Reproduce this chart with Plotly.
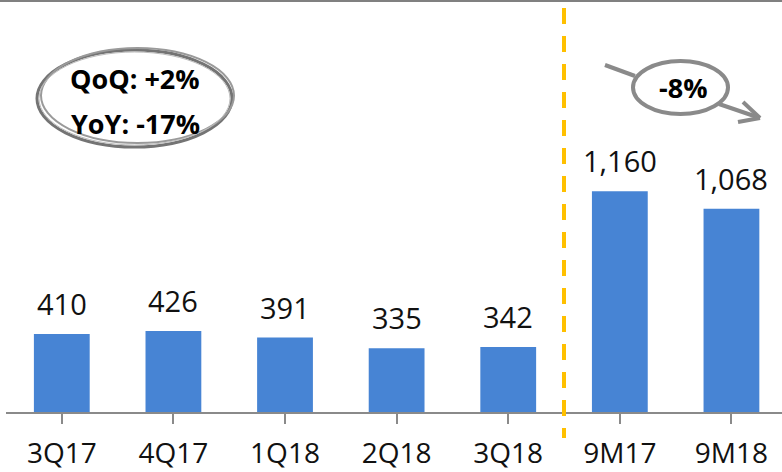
import plotly.graph_objects as go

categories = ["3Q17", "4Q17", "1Q18", "2Q18", "3Q18", "9M17", "9M18"]
values = [410, 426, 391, 335, 342, 1160, 1068]
value_labels = ["410", "426", "391", "335", "342", "1,160", "1,068"]

BAR_COLOR = "#4784D4"
GRAY = "#8a8a8a"
FONT = "Open Sans, Lato, DejaVu Sans, sans-serif"

W, H = 782, 472
L, T, B = 6, 0, 60
PW, PH = W - L, H - T - B


def px(x):
    return (x - L) / PW


def py(y):
    return 1 - (y - T) / PH


fig = go.Figure()
fig.add_trace(go.Bar(
    x=list(range(len(categories))), y=values,
    marker=dict(color=BAR_COLOR, line=dict(width=0)),
    width=0.5, hoverinfo="skip",
))

annotations = []
for i, (v, lab) in enumerate(zip(values, value_labels)):
    annotations.append(dict(
        x=i, y=v, xref="x", yref="y", text=lab, showarrow=False,
        yanchor="bottom", xanchor="center", yshift=9,
        font=dict(family=FONT, size=29, color="#111111"),
    ))


def callout(x, y, text):
    return dict(x=px(x), y=py(y), xref="paper", yref="paper", text=text,
                showarrow=False, xanchor="center", yanchor="middle",
                font=dict(family=FONT, size=27, color="#000000"))


annotations += [
    callout(135, 78, "<b>QoQ: +2%</b>"),
    callout(135, 124, "<b>YoY: -17%</b>"),
    callout(683, 87, "<b>-8%</b>"),
]

shapes = [
    # top border
    dict(type="line", xref="paper", yref="paper", x0=px(0), x1=px(782), y0=py(1), y1=py(1),
         line=dict(color="#808080", width=2)),
    # dashed separator
    dict(type="line", xref="paper", yref="paper", x0=px(564), x1=px(564), y0=py(8), y1=py(438),
         line=dict(color="#FFC000", width=4, dash="16px,12px")),
    # left sketchy ellipse
    dict(type="circle", xref="paper", yref="paper", x0=px(37), x1=px(232), y0=py(50), y1=py(147),
         line=dict(color="#747474", width=3)),
    dict(type="circle", xref="paper", yref="paper", x0=px(41), x1=px(234), y0=py(48), y1=py(143),
         line=dict(color="#9a9a9a", width=2)),
    dict(type="circle", xref="paper", yref="paper", x0=px(39), x1=px(230), y0=py(52), y1=py(145),
         line=dict(color="#bdbdbd", width=1)),
    # right arrow lines
    dict(type="line", xref="paper", yref="paper", x0=px(605), x1=px(635), y0=py(65), y1=py(76),
         line=dict(color=GRAY, width=4)),
    dict(type="line", xref="paper", yref="paper", x0=px(719), x1=px(760), y0=py(104), y1=py(118),
         line=dict(color=GRAY, width=4)),
    dict(type="line", xref="paper", yref="paper", x0=px(743), x1=px(760), y0=py(102), y1=py(118),
         line=dict(color=GRAY, width=4)),
    dict(type="line", xref="paper", yref="paper", x0=px(738), x1=px(760), y0=py(122), y1=py(118),
         line=dict(color=GRAY, width=4)),
    # right ellipse
    dict(type="circle", xref="paper", yref="paper", x0=px(633), x1=px(728), y0=py(61), y1=py(114),
         fillcolor="white", line=dict(color=GRAY, width=4)),
]

fig.update_layout(
    width=W, height=H,
    margin=dict(l=L, r=0, t=T, b=B, pad=0),
    paper_bgcolor="white", plot_bgcolor="white",
    showlegend=False,
    bargap=0.5,
    font=dict(family=FONT, color="#111111"),
    xaxis=dict(
        range=[-0.5, 6.453],
        tickmode="array", tickvals=list(range(len(categories))), ticktext=categories,
        tickson="boundaries", ticks="outside", ticklen=10, tickwidth=2, tickcolor=GRAY,
        showline=True, linecolor=GRAY, linewidth=2,
        showgrid=False, zeroline=False,
        tickfont=dict(family=FONT, size=28, color="#111111"),
        ticklabelstandoff=5,
        automargin=False,
        fixedrange=True,
    ),
    yaxis=dict(
        range=[0, 2164], visible=False, showgrid=False, zeroline=False, fixedrange=True,
    ),
    annotations=annotations,
    shapes=shapes,
)

fig.write_html(
    "out.html",
    config={"displayModeBar": False},
    post_script="document.body.style.margin='0';document.body.style.overflow='hidden';",
)
